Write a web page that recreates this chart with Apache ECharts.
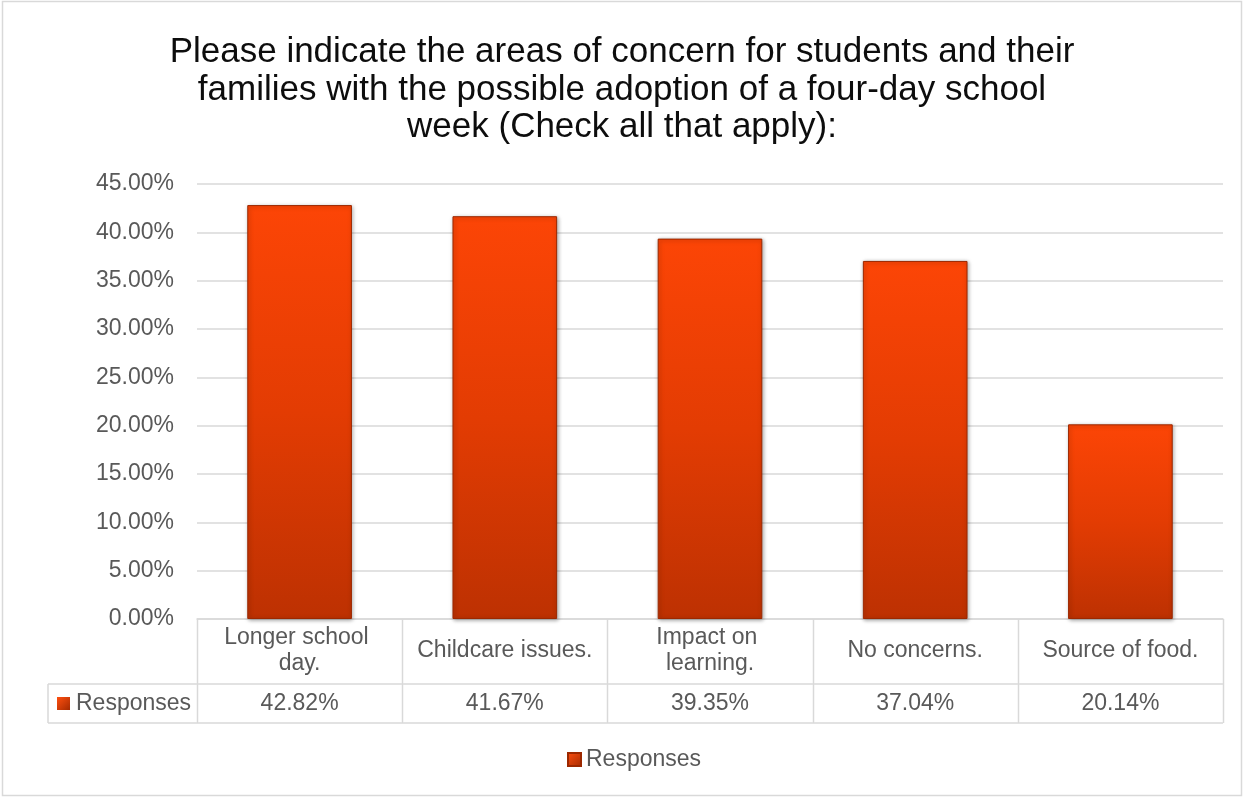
<!DOCTYPE html>
<html><head><meta charset="utf-8">
<script src="https://cdn.jsdelivr.net/npm/echarts@6/dist/echarts.min.js"></script>
<style>html,body{margin:0;padding:0;background:#fff}#c{width:1244px;height:797px}</style>
</head><body><div id="c"></div>
<script>
const titleText = 'Please indicate the areas of concern for students and their\nfamilies with the possible adoption of a four-day school\nweek (Check all that apply):';
const categories = ['Longer school day.', 'Childcare issues.', 'Impact on learning.', 'No concerns.', 'Source of food.'];
const seriesName = 'Responses';
const values = [42.82, 41.67, 39.35, 37.04, 20.14];
const yMin = 0, yMax = 45, yStep = 5;

const FONT = '"Liberation Sans", Arial, sans-serif';
const FS = 23;
const TXT = '#595959';
const LINE = '#d9d9d9';
const GL = 197, GR = 21, GT = 184, GB = 178;
const W = 1244, H = 797;
const barGrad = new echarts.graphic.LinearGradient(0, 0, 0, 1, [
  {offset: 0, color: '#fc4506'}, {offset: 0.5, color: '#e33c03'}, {offset: 1, color: '#bd3102'}]);
const iconGrad = new echarts.graphic.LinearGradient(0, 0, 1, 1, [
  {offset: 0, color: '#ff5010'}, {offset: 1, color: '#a52a00'}]);

const chart = echarts.init(document.getElementById('c'), null, {renderer: 'canvas'});

const gx0 = GL, gx1 = W - GR, gy0 = GT, gy1 = H - GB;
const band = (gx1 - gx0) / categories.length;
const rowTop = gy1, rowMid = 684, rowBot = 723, labelLeft = 48;

const gfx = [];
gfx.push({type: 'rect', shape: {x: 2.5, y: 1.5, width: W - 5, height: H - 3}, style: {fill: 'none', stroke: LINE, lineWidth: 1.5}, silent: true});
gfx.push({type: 'line', shape: {x1: labelLeft, y1: rowMid, x2: gx1, y2: rowMid}, style: {stroke: LINE, lineWidth: 1.5}});
gfx.push({type: 'line', shape: {x1: labelLeft, y1: rowBot, x2: gx1, y2: rowBot}, style: {stroke: LINE, lineWidth: 1.5}});
gfx.push({type: 'line', shape: {x1: labelLeft, y1: rowMid, x2: labelLeft, y2: rowBot}, style: {stroke: LINE, lineWidth: 1.5}});
for (let k = 0; k <= categories.length; k++) {
  const x = Math.round(gx0 + k * band) + 0.5;
  gfx.push({type: 'line', shape: {x1: x, y1: rowTop, x2: x, y2: rowBot}, style: {stroke: LINE, lineWidth: 1.5}});
}
gfx.push({type: 'rect', shape: {x: 57, y: 697, width: 13, height: 13}, style: {fill: iconGrad}});
gfx.push({type: 'text', x: 76, y: 704, style: {text: seriesName, font: FS + 'px ' + FONT, fill: TXT, verticalAlign: 'middle', align: 'left'}});

chart.setOption({
  animation: false,
  title: {text: titleText, left: 'center', top: 29,
    textStyle: {fontFamily: FONT, fontSize: 35, fontWeight: 'normal', color: '#0d0d0d', lineHeight: 37.5}},
  grid: {left: GL, right: GR, top: GT, bottom: GB, containLabel: false},
  legend: {bottom: 21, left: 562, icon: 'rect', itemWidth: 13, itemHeight: 13, itemGap: 6,
    data: [{name: seriesName, itemStyle: {color: iconGrad}}],
    textStyle: {fontFamily: FONT, fontSize: FS, color: TXT}},
  xAxis: [{
    type: 'category', data: categories, gridIndex: 0, position: 'bottom',
    axisLine: {show: true, lineStyle: {color: LINE, width: 1.5}},
    axisTick: {show: false},
    axisLabel: {interval: 0, margin: 32, verticalAlign: 'middle', width: 186, overflow: 'break',
      lineHeight: 26, fontFamily: FONT, fontSize: FS, color: TXT, align: 'center'}
  }, {
    type: 'category', data: values.map(v => v.toFixed(2) + '%'), gridIndex: 0, position: 'bottom',
    axisLine: {show: false}, axisTick: {show: false},
    axisLabel: {interval: 0, margin: 85, verticalAlign: 'middle', fontFamily: FONT, fontSize: FS, color: TXT}
  }],
  yAxis: {
    type: 'value', min: yMin, max: yMax, interval: yStep,
    axisLine: {show: false}, axisTick: {show: false},
    splitLine: {lineStyle: {color: LINE, width: 1.5}},
    axisLabel: {margin: 23, fontFamily: FONT, fontSize: FS, color: TXT, formatter: v => v.toFixed(2) + '%'}
  },
  series: [{
    name: seriesName, type: 'bar', xAxisIndex: 0, data: values, barWidth: '51%',
    itemStyle: {color: barGrad, borderColor: '#9c2800', borderWidth: 1,
      shadowColor: 'rgba(0,0,0,0.35)', shadowBlur: 4, shadowOffsetX: 1, shadowOffsetY: 1}
  }],
  graphic: gfx
});
</script></body></html>
